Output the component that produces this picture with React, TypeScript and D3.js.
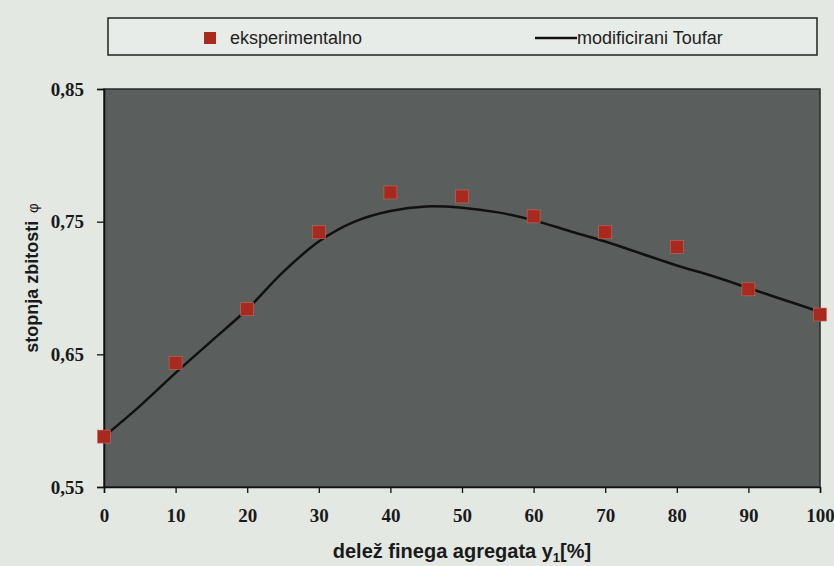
import { useEffect, useRef } from 'react';
import * as d3 from 'd3';

// measured points (eksperimentalno)
const expX = [0, 10, 20, 30, 40, 50, 60, 70, 80, 90, 100];
const expY = [0.588, 0.6435, 0.684, 0.742, 0.772, 0.769, 0.754, 0.742, 0.731, 0.699, 0.68];

// model curve (modificirani Toufar), read every 5 %
const modX = [0, 5, 10, 15, 20, 25, 30, 35, 40, 45, 50, 55, 60, 65, 70, 75, 80, 85, 90, 95, 100];
const modY = [0.588, 0.611, 0.636, 0.66, 0.684, 0.712, 0.735, 0.75, 0.758, 0.7615, 0.7605, 0.757, 0.751, 0.743, 0.735, 0.726, 0.717, 0.709, 0.7, 0.691, 0.682];

const xTicks = [0, 10, 20, 30, 40, 50, 60, 70, 80, 90, 100];
const yTicks = [0.55, 0.65, 0.75, 0.85];

export default function App() {
  const svgRef = useRef<SVGSVGElement>(null);

  useEffect(() => {
    if (!svgRef.current) return;
    const W = 834, H = 566;
    const margin = { top: 89, right: 14, bottom: 79, left: 104 };
    const width = W - margin.left - margin.right;
    const height = H - margin.top - margin.bottom;

    const root = d3.select(svgRef.current);
    root.selectAll('*').remove();

    root.append('rect').attr('width', W).attr('height', H).attr('fill', '#e3e8e3');

    // legend
    const lg = root.append('g');
    lg.append('rect')
      .attr('x', 108).attr('y', 18).attr('width', 709).attr('height', 37)
      .attr('fill', '#e8ece8').attr('stroke', '#222').attr('stroke-width', 1.5);
    lg.append('rect').attr('x', 204).attr('y', 32).attr('width', 12).attr('height', 12).attr('fill', '#a82a1e');
    lg.append('text').attr('x', 230).attr('y', 44)
      .style('font-family', 'Liberation Sans, Arial, sans-serif').style('font-size', '18px').attr('fill', '#222')
      .text('eksperimentalno');
    lg.append('line').attr('x1', 535).attr('x2', 577).attr('y1', 38).attr('y2', 38)
      .attr('stroke', '#111').attr('stroke-width', 2.5);
    lg.append('text').attr('x', 577).attr('y', 44)
      .style('font-family', 'Liberation Sans, Arial, sans-serif').style('font-size', '18px').attr('fill', '#222')
      .text('modificirani Toufar');

    const svg = root.append('g').attr('transform', `translate(${margin.left},${margin.top})`);

    const x = d3.scaleLinear().domain([0, 100]).range([0, width]);
    const y = d3.scaleLinear().domain([0.55, 0.85]).range([height, 0]);

    svg.append('rect').attr('width', width).attr('height', height)
      .attr('fill', '#5a5e5c').attr('stroke', '#2a2a2a').attr('stroke-width', 1.5);

    const xAxis = svg.append('g')
      .attr('transform', `translate(0,${height})`)
      .call(d3.axisBottom(x).tickValues(xTicks).tickSize(6).tickPadding(16).tickFormat(d => String(d)));
    const yAxis = svg.append('g')
      .call(d3.axisLeft(y).tickValues(yTicks).tickSize(7).tickPadding(13).tickFormat(d => (d as number).toFixed(2).replace('.', ',')));

    [xAxis, yAxis].forEach(a => {
      a.select('.domain').attr('stroke', '#111').attr('stroke-width', 1.5);
      a.selectAll('line').attr('stroke', '#111').attr('stroke-width', 1.3);
      a.selectAll('text')
        .style('font-family', 'Liberation Serif, Times New Roman, serif')
        .style('font-size', '19px')
        .style('font-weight', 'bold')
        .attr('fill', '#1a1a1a');
    });

    const line = d3.line<number>()
      .x((_, i) => x(modX[i]))
      .y(d => y(d))
      .curve(d3.curveCatmullRom.alpha(0.5));
    svg.append('path').datum(modY).attr('d', line)
      .attr('fill', 'none').attr('stroke', '#111').attr('stroke-width', 2.5);

    const s = 13;
    svg.selectAll('.pt')
      .data(expY)
      .enter()
      .append('rect')
      .attr('class', 'pt')
      .attr('x', (_, i) => x(expX[i]) - s / 2)
      .attr('y', d => y(d) - s / 2)
      .attr('width', s).attr('height', s)
      .attr('fill', '#a82a1e')
      .attr('stroke', '#c86a5a').attr('stroke-width', 0.6);

    // axis titles
    const xt = root.append('text')
      .attr('x', 462).attr('y', 558).attr('text-anchor', 'middle')
      .style('font-family', 'Liberation Sans, Arial, sans-serif')
      .style('font-size', '20px').style('font-weight', 'bold').attr('fill', '#1a1a1a');
    xt.append('tspan').text('delež finega agregata y');
    xt.append('tspan').attr('dy', 4).style('font-size', '13px').text('1');
    xt.append('tspan').attr('dy', -4).text('[%]');

    const yt = root.append('text')
      .attr('transform', 'translate(38,278) rotate(-90)')
      .attr('text-anchor', 'middle')
      .style('font-family', 'Liberation Sans, Arial, sans-serif')
      .style('font-size', '18px').style('font-weight', 'bold').attr('fill', '#1a1a1a');
    yt.append('tspan').text('stopnja zbitosti');
    yt.append('tspan').attr('dx', 8).style('font-size', '15px').style('font-weight', 'normal').text('φ');
  }, []);

  return (
    <svg ref={svgRef} width={834} height={566}
      style={{ position: 'absolute', left: 0, top: 0, display: 'block' }} />
  );
}
